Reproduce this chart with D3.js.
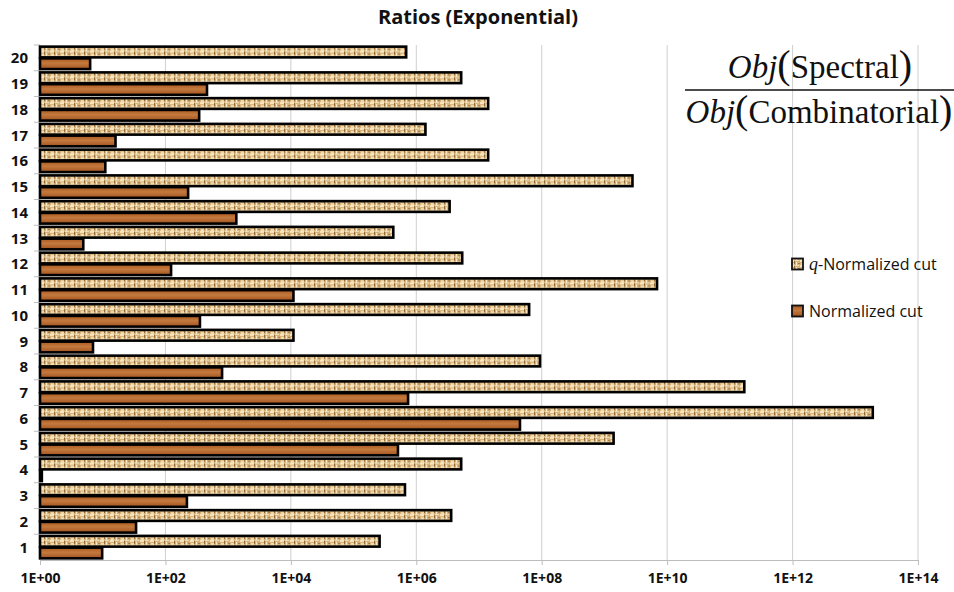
<!DOCTYPE html>
<html>
<head>
<meta charset="utf-8">
<script src="https://cdn.jsdelivr.net/npm/d3@7"></script>
<style>
  body { margin: 0; background: #fff; }
  svg { display: block; }
</style>
</head>
<body>
<div id="chart"></div>
<script>
// categories (instances 1..20) and the two ratio series
let categories = ["1", "2", "3", "4", "5", "6", "7", "8", "9", "10",
                  "11", "12", "13", "14", "15", "16", "17", "18", "19", "20"];

let normalizedCut = [9.8, 34, 220, 1.07, 5.1e5, 4.5e7, 7.4e5, 800, 7, 355,
                     1.1e4, 123, 4.9, 1350, 230, 11, 16, 345, 460, 6.3];

let qNormalizedCut = [2.6e5, 3.6e6, 6.6e5, 5.2e6, 1.4e9, 1.9e13, 1.7e11, 9.4e7, 1.1e4, 6.3e7,
                      6.9e9, 5.4e6, 4.3e5, 3.4e6, 2.8e9, 1.4e7, 1.4e6, 1.4e7, 5.2e6, 6.9e5];

let xTicks = [1e0, 1e2, 1e4, 1e6, 1e8, 1e10, 1e12, 1e14];

let seriesNames = ["q", "n"];

// layout
let width = 954,
    height = 592,
    plotLeft = 40,
    plotRight = 918,
    plotTop = 45,
    plotBottom = 560;

let svg = d3.select("#chart")
    .append("svg")
    .attr("width", width)
    .attr("height", height)
    .style("font-family", "'Open Sans', sans-serif");

// textures: burlap for q-normalized, wood for normalized
let defs = svg.append("defs");

let burlap = defs.append("pattern")
    .attr("id", "burlap")
    .attr("patternUnits", "userSpaceOnUse")
    .attr("width", 10)
    .attr("height", 5);
burlap.append("rect").attr("width", 10).attr("height", 5).attr("fill", "#d6b178");
burlap.append("rect").attr("x", 0).attr("y", 0).attr("width", 4).attr("height", 2).attr("fill", "#f5e6c3");
burlap.append("rect").attr("x", 5).attr("y", 0).attr("width", 4).attr("height", 1).attr("fill", "#f2dfb5");
burlap.append("rect").attr("x", 6).attr("y", 2).attr("width", 1).attr("height", 3).attr("fill", "#f7eacb");
burlap.append("rect").attr("x", 1).attr("y", 3).attr("width", 3).attr("height", 2).attr("fill", "#f0dbae");
burlap.append("rect").attr("x", 4).attr("y", 1).attr("width", 1).attr("height", 3).attr("fill", "#946b38");
burlap.append("rect").attr("x", 8).attr("y", 3).attr("width", 2).attr("height", 1).attr("fill", "#a37a45");

let wood = defs.append("linearGradient")
    .attr("id", "wood")
    .attr("x1", 0).attr("y1", 0).attr("x2", 0).attr("y2", 1);
wood.append("stop").attr("offset", "0%").attr("stop-color", "#a9581f");
wood.append("stop").attr("offset", "45%").attr("stop-color", "#c47a3e");
wood.append("stop").attr("offset", "100%").attr("stop-color", "#a25220");

// scales
let x = d3.scaleLog()
    .domain([1, 1e14])
    .range([plotLeft, plotRight]);

let y = d3.scaleBand()
    .domain(categories.slice().reverse())
    .range([plotTop, plotBottom])
    .paddingInner(0.05)
    .paddingOuter(0.025);

let ySub = d3.scaleBand()
    .domain(seriesNames)
    .range([0, y.bandwidth()]);

// gridlines
svg.append("g")
    .selectAll("line")
    .data(xTicks)
    .join("line")
    .attr("x1", d => x(d))
    .attr("x2", d => x(d))
    .attr("y1", plotTop)
    .attr("y2", plotBottom)
    .attr("stroke", "#cfcfcf")
    .attr("stroke-width", 1);

// bottom axis
let xAxis = d3.axisBottom(x)
    .tickValues(xTicks)
    .tickSize(5)
    .tickFormat(d => "1E+" + String(Math.round(Math.log10(d))).padStart(2, "0"));

let gx = svg.append("g")
    .attr("transform", `translate(0,${plotBottom})`)
    .call(xAxis);
gx.select(".domain").attr("stroke", "#bdbdbd");
gx.selectAll(".tick line").attr("stroke", "#bdbdbd");
gx.selectAll(".tick text")
    .attr("dy", "1.05em")
    .attr("fill", "#111")
    .style("font-size", "14px")
    .style("font-weight", "bold")
    .style("font-family", "'Open Sans', sans-serif");

// left category ticks at band boundaries
let step = y.step();
svg.append("g")
    .selectAll("line")
    .data(categories)
    .join("line")
    .attr("x1", plotLeft - 6)
    .attr("x2", plotLeft)
    .attr("y1", d => y(d) - y.paddingInner() * step / 2)
    .attr("y2", d => y(d) - y.paddingInner() * step / 2)
    .attr("stroke", "#bdbdbd");

svg.append("g")
    .selectAll("text")
    .data(categories)
    .join("text")
    .attr("x", 28)
    .attr("y", d => y(d) + y.bandwidth() / 2)
    .attr("dy", "0.36em")
    .attr("text-anchor", "end")
    .style("font-size", "15px")
    .style("font-weight", "bold")
    .attr("fill", "#111")
    .text(d => d);

// bars
let rows = categories.map((c, i) => ({ c: c, q: qNormalizedCut[i], n: normalizedCut[i] }));

let bars = svg.append("g")
    .selectAll("g")
    .data(rows)
    .join("g")
    .attr("transform", d => `translate(0,${y(d.c)})`);

bars.append("rect")
    .attr("x", x(1))
    .attr("y", ySub("q") + 1)
    .attr("width", d => x(d.q) - x(1))
    .attr("height", ySub.bandwidth() - 1.5)
    .attr("fill", "url(#burlap)")
    .attr("stroke", "#000")
    .attr("stroke-width", 2.6);

bars.append("rect")
    .attr("x", x(1))
    .attr("y", ySub("n") + 0.5)
    .attr("width", d => x(d.n) - x(1))
    .attr("height", ySub.bandwidth() - 1.5)
    .attr("fill", "url(#wood)")
    .attr("stroke", "#000")
    .attr("stroke-width", 2.6);

// title
svg.append("text")
    .attr("x", 478)
    .attr("y", 24)
    .attr("text-anchor", "middle")
    .style("font-size", "20px")
    .style("font-weight", "bold")
    .attr("fill", "#111")
    .text("Ratios (Exponential)");

// formula  Obj(Spectral) / Obj(Combinatorial)
let formula = svg.append("g")
    .style("font-family", "'Liberation Serif', 'DejaVu Serif', serif")
    .attr("fill", "#111");

let num = formula.append("text")
    .attr("x", 820)
    .attr("y", 78)
    .attr("text-anchor", "middle")
    .style("font-size", "33px");
num.append("tspan").style("font-style", "italic").text("Obj");
num.append("tspan").style("font-size", "40px").text("(");
num.append("tspan").text("Spectral");
num.append("tspan").style("font-size", "40px").text(")");

formula.append("line")
    .attr("x1", 685)
    .attr("x2", 954)
    .attr("y1", 90)
    .attr("y2", 90)
    .attr("stroke", "#111")
    .attr("stroke-width", 1.5);

let den = formula.append("text")
    .attr("x", 819)
    .attr("y", 123)
    .attr("text-anchor", "middle")
    .style("font-size", "33px");
den.append("tspan").style("font-style", "italic").text("Obj");
den.append("tspan").style("font-size", "40px").text("(");
den.append("tspan").text("Combinatorial");
den.append("tspan").style("font-size", "40px").text(")");

// legend
let legendItems = [
    { fill: "url(#burlap)", y: 264, label: "-Normalized cut", prefix: "q" },
    { fill: "url(#wood)", y: 311, label: "Normalized cut", prefix: "" }
];

let legend = svg.append("g");

legendItems.forEach(item => {
    legend.append("rect")
        .attr("x", 792)
        .attr("y", item.y - 5.5)
        .attr("width", 11)
        .attr("height", 11)
        .attr("fill", item.fill)
        .attr("stroke", "#111")
        .attr("stroke-width", 1.8);

    let t = legend.append("text")
        .attr("x", 809)
        .attr("y", item.y)
        .attr("dy", "0.35em")
        .style("font-size", "16px")
        .attr("fill", "#111");
    if (item.prefix) {
        t.append("tspan")
            .style("font-family", "'Liberation Serif', serif")
            .style("font-style", "italic")
            .style("font-size", "18px")
            .text(item.prefix);
    }
    t.append("tspan").text(item.label);
});
</script>
</body>
</html>
